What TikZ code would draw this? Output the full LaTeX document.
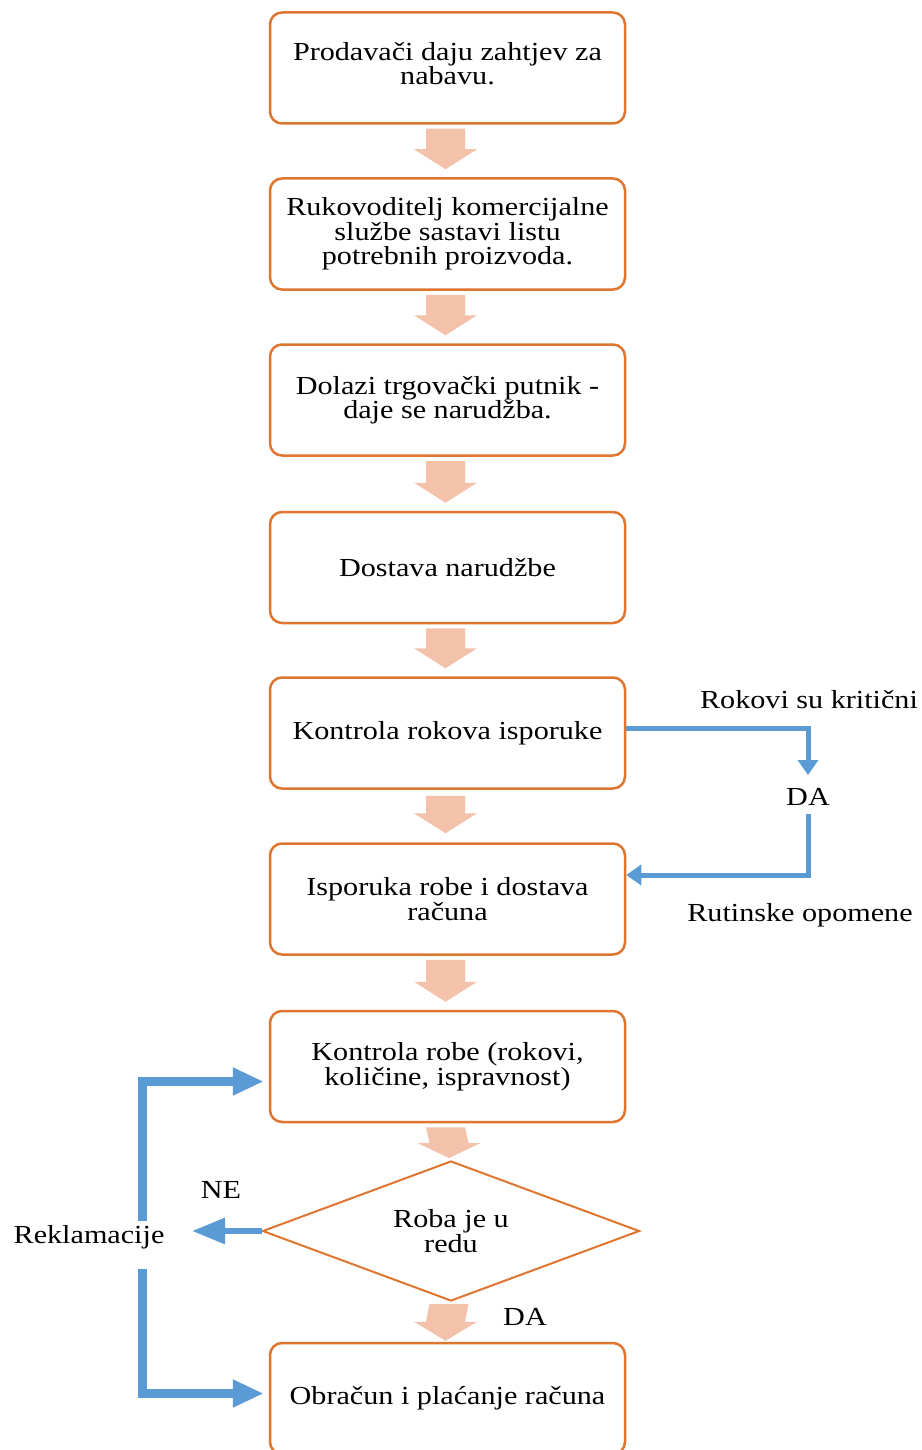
\documentclass[tikz,border=0pt]{standalone}
\usepackage{fontspec}
\setmainfont{Liberation Serif}[FakeStretch=1.16]
\usetikzlibrary{shapes.geometric,arrows.meta,calc}
\definecolor{boxorange}{RGB}{222,118,48}
\definecolor{arrowfill}{RGB}{244,193,170}
\definecolor{lineblue}{RGB}{91,155,213}
\newcommand{\blockarrow}[5]{%
  % #1 from node, #2 to node, #3 start offset, #4 tip offset, #5 head length
  \fill[arrowfill] ($(#1.south)+(-21.5,#3)$) -- ($(#1.south)+(17.5,#3)$)
    -- ($(#2.north)+(17.5,-#4-#5)$) -- ($(#2.north)+(29.5,-#4-#5)$)
    -- ($(#2.north)+(-2,-#4)$) -- ($(#2.north)+(-33.5,-#4-#5)$)
    -- ($(#2.north)+(-21.5,-#4-#5)$) -- cycle;}
\begin{document}
\begin{tikzpicture}[x=1pt,y=-1pt,
  txt/.style={font=\fontsize{26}{24.5}\selectfont, align=center, inner sep=0pt},
  stepbox/.style={txt, draw=boxorange, line width=2.5pt, rounded corners=12pt,
    minimum width=355pt, minimum height=111pt},
  decision/.style={txt, draw=boxorange, line width=2pt, diamond, shape aspect=2.7,
    minimum width=377pt, minimum height=140pt},
  thinblue/.style={draw=lineblue, line width=5pt, -{Triangle[width=20pt,length=15pt]}},
  thickblue/.style={draw=lineblue, line width=9pt, -{Triangle[width=26pt,length=31pt]}},
  midblue/.style={draw=lineblue, line width=6pt, -{Triangle[width=25pt,length=33pt]}},
  lbl/.style={font=\fontsize{26}{24.5}\selectfont, inner sep=0pt}]
\useasboundingbox (0,0) rectangle (921,1450);
\fill[white] (0,0) rectangle (921,1450);

\node[stepbox] (b1) at (447.5,68) {Prodavači daju zahtjev za\\nabavu.\\[-15.5pt]};
\node[stepbox] (b2) at (447.5,234) {Rukovoditelj komercijalne\\službe sastavi listu\\potrebnih proizvoda.};
\node[stepbox] (b3) at (447.5,400) {Dolazi trgovački putnik -\\daje se narudžba.};
\node[stepbox] (b4) at (447.5,567.5) {Dostava narudžbe};
\node[stepbox] (b5) at (447.5,733) {Kontrola rokova isporuke};
\node[stepbox] (b6) at (447.5,899) {Isporuka robe i dostava\\računa};
\node[stepbox] (b7) at (447.5,1066.5) {Kontrola robe (rokovi,\\količine, ispravnost)};
\node[decision] (d1) at (451,1231) {Roba je u\\redu};
\node[stepbox] (b8) at (447.5,1398.5) {Obračun i plaćanje računa};

\blockarrow{b1}{b2}{4}{8}{20}
\blockarrow{b2}{b3}{4}{8}{20}
\blockarrow{b3}{b4}{4}{8}{20}
\blockarrow{b4}{b5}{4}{8}{20}
\blockarrow{b5}{b6}{6}{9}{20}
\blockarrow{b6}{b7}{4}{8}{20}
\blockarrow{b7}{d1}{4}{2}{15}
\blockarrow{d1}{b8}{2}{1}{19}

% right loop
\node[lbl] (rok) at (809,700) {Rokovi su kritični};
\node[lbl] (daR) at (808,797) {DA};
\node[lbl] (rut) at (800,915) {Rutinske opomene};
\coordinate (dtip) at (808,775);
\coordinate (dres) at (808,814);
\draw[thinblue] ([yshift=5pt]b5.east) -| (dtip);
\draw[thinblue] (dres) |- ([yshift=24pt]b6.east);

% left loop
\node[lbl] (ne) at (221,1190) {NE};
\node[lbl] (rek) at (89,1237) {Reklamacije};
\node[lbl] (daB) at (525,1317) {DA};
\coordinate (ntip) at (192,1231);
\draw[midblue] (d1.west) -- (ntip);
\coordinate (rk1) at (142,1221);
\coordinate (rk2) at (142,1269);
\draw[thickblue] (rk1) |- ([yshift=-15pt,xshift=-5pt]b7.west);
\draw[thickblue] (rk2) |- ([yshift=5pt,xshift=-5pt]b8.west);
\end{tikzpicture}
\end{document}
